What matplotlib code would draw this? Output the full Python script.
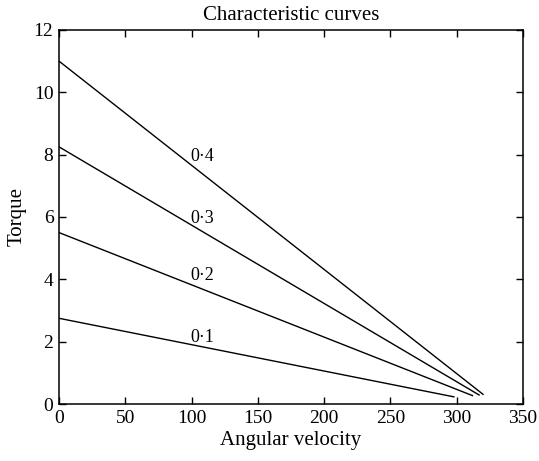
import matplotlib.pyplot as plt

# characteristic lines: torque at zero speed, end point
labels = ['0·1', '0·2', '0·3', '0·4']
speed_start = [0, 0, 0, 0]
torque_start = [2.75, 5.5, 8.25, 11.0]
speed_end = [298, 312, 317, 320]
torque_end = [0.23, 0.27, 0.29, 0.31]
label_x = [99, 99, 99, 99]
label_y = [2.0, 3.97, 5.8, 7.8]


def _main() -> None:
    plt.rcParams['font.family'] = ['Liberation Serif', 'DejaVu Serif']
    fig = plt.figure(figsize=(5.39, 4.61), dpi=100)
    ax = fig.add_axes([0.1095, 0.1236, 0.8605, 0.8114])

    for i in range(len(labels)):
        ax.plot([speed_start[i], speed_end[i]], [torque_start[i], torque_end[i]],
                color='black', linewidth=1.0)
        ax.text(label_x[i], label_y[i], labels[i], fontsize=13, ha='left', va='baseline')

    ax.set_xlim(0, 350)
    ax.set_ylim(0, 12)
    ax.set_xticks(range(0, 351, 50))
    ax.set_yticks(range(0, 13, 2))
    ax.tick_params(direction='in', top=True, right=True, labelsize=14, length=5, width=1.0, pad=4)
    for s in ax.spines.values():
        s.set_linewidth(1.1)
    ax.set_xlabel('Angular velocity', fontsize=15, labelpad=3)
    ax.set_ylabel('Torque', fontsize=15, labelpad=5)
    ax.set_title('Characteristic curves', fontsize=15, pad=7)
    fig.savefig('out.png', dpi=100)


if __name__ == '__main__':
    _main()
